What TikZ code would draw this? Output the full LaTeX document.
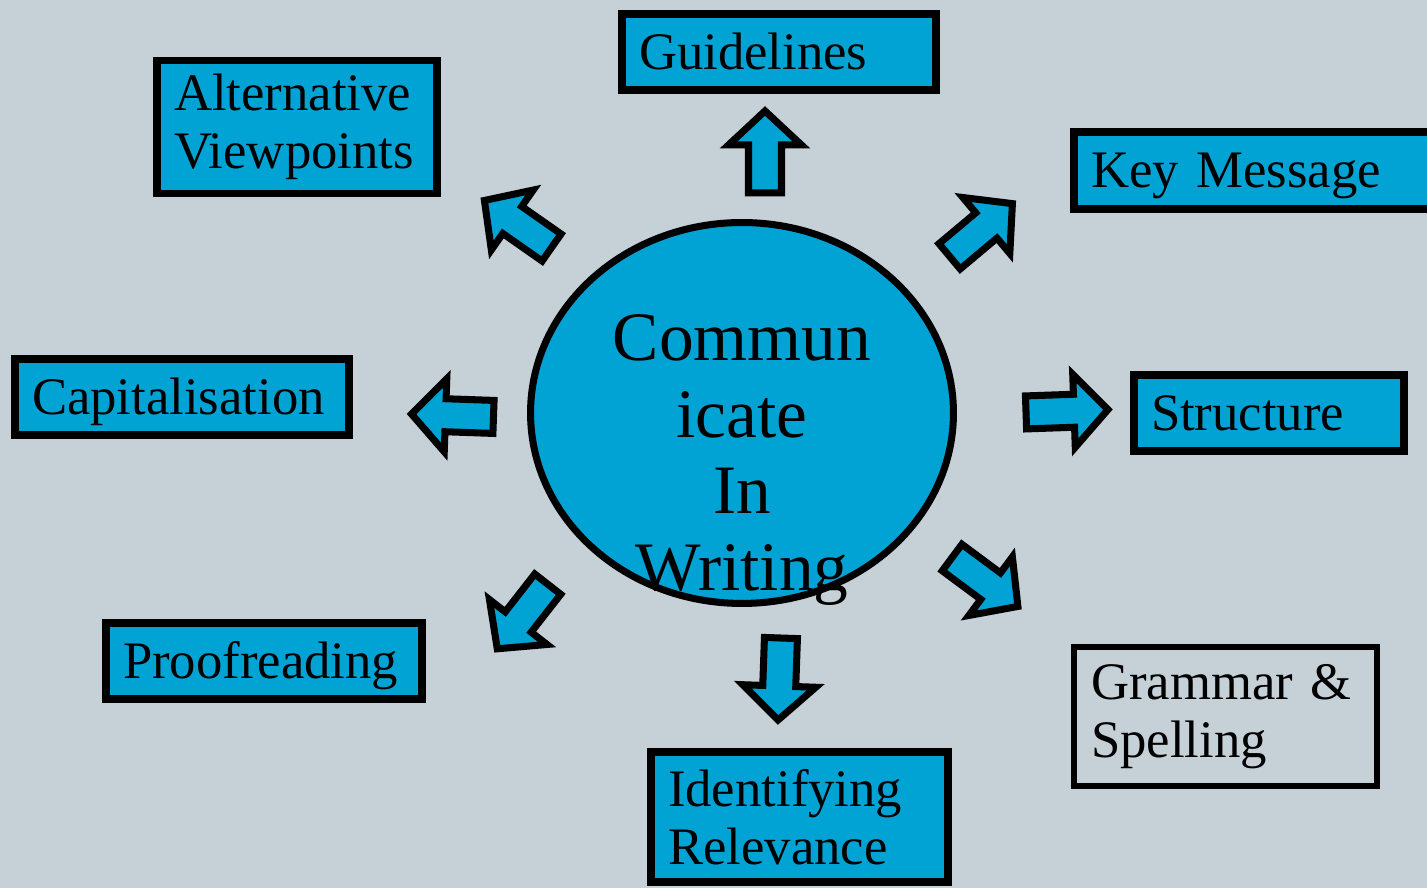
\documentclass[tikz,border=0pt]{standalone}
\usepackage{fontspec}
\setmainfont{Liberation Serif}
\usepackage{xcolor}
\usepackage{tikz}
\usetikzlibrary{shapes.geometric}

\definecolor{backdrop}{HTML}{C5D0D7}
\definecolor{tileblue}{HTML}{00A3D4}
\newcommand{\tilefont}{\fontsize{30pt}{33pt}\selectfont}
\newcommand{\hubfont}{\fontsize{39.5pt}{43.7pt}\selectfont}

\tikzset{
  tile/.style={draw=black, line width=4.5pt, fill=tileblue, font=\tilefont, align=left,
    inner xsep=0.34cm, inner ysep=0pt},
  oneline/.style={text height=24pt, text depth=4.5pt},
  arrowline/.style={draw=black, line width=4pt, fill=tileblue, line join=miter},
  blockarrow/.pic={\draw[arrowline] (-41,-16.5) -- (7,-16.5) -- (7,-36.5) -- (41,0) -- (7,36.5) -- (7,16.5) -- (-41,16.5) -- cycle;}
}

\begin{document}
\begin{tikzpicture}[x=0.02cm, y=0.02cm]
  \useasboundingbox (0,0) rectangle (1427,888);
  \fill[backdrop] (0,0) rectangle (1427,888);

  \node[ellipse, draw=black, line width=4pt, fill=tileblue, minimum width=8.46cm, minimum height=7.62cm, inner sep=0pt] (hub) at (742,475) {};
  \node[font=\hubfont, align=center, inner sep=0pt, anchor=north] (hubtitle) at (742,574) {Commun\\icate\\In\\Writing};

  \node[tile, oneline, text width=5.60cm, minimum height=1.52cm] (guide) at (779,836) {Guidelines};
  \node[tile, text width=4.92cm, minimum height=2.66cm] (alt) at (297,761) {Alternative\\Viewpoints};
  \node[tile, oneline, text width=6.64cm, minimum height=1.54cm] (key) at (1257,717.5) {Key Message};
  \node[tile, oneline, text width=6.00cm, minimum height=1.52cm] (cap) at (182,491) {Capitalisation};
  \node[tile, oneline, text width=4.72cm, minimum height=1.52cm] (struct) at (1269,475) {Structure};
  \node[tile, oneline, text width=5.64cm, minimum height=1.52cm] (proof) at (264,227) {Proofreading};
  \node[tile, text width=5.26cm, minimum height=2.60cm] (ident) at (799.5,71) {Identifying\\Relevance};
  \node[tile, fill=backdrop, line width=3.4pt, text width=5.38cm, minimum height=2.78cm] (grammar) at (1225.5,171.5) {Grammar \&\\Spelling};

  \pic (guidearrow) [rotate=90] at (765,736) {blockarrow};
  \pic (altarrow) [rotate=145] at (518,664) {blockarrow};
  \pic (keyarrow) [rotate=40] at (981,658) {blockarrow};
  \pic (structarrow) [rotate=2] at (1067,477) {blockarrow};
  \pic (grammararrow) [rotate=-36.6] at (985,306) {blockarrow};
  \pic (identarrow) [rotate=-92] at (779.5,209) {blockarrow};
  \pic (proofarrow) [rotate=232] at (522.5,271.5) {blockarrow};
  \pic (caparrow) [rotate=178] at (452.5,472.5) {blockarrow};
\end{tikzpicture}
\end{document}
